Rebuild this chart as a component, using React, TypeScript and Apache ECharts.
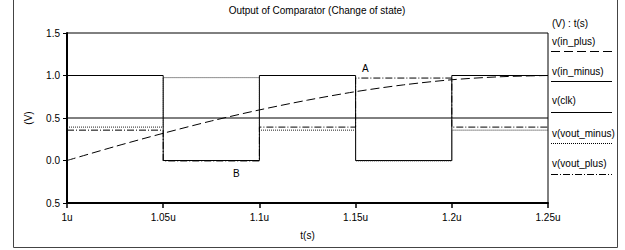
import React, { useEffect, useRef } from 'react';
import * as echarts from 'echarts';

// time in microseconds
const segmentBounds = [1, 1.05, 1.1, 1.15, 1.2, 1.25];
const inPlusT = [1, 1.025, 1.05, 1.075, 1.1, 1.125, 1.15, 1.175, 1.2, 1.225, 1.25];
const inPlusV = [0, 0.165, 0.32, 0.465, 0.595, 0.71, 0.81, 0.89, 0.95, 0.985, 1.0];
const inMinusT = [1, 1.25];
const inMinusV = [0.5, 0.5];
const clkLevels = [1, 0, 1, 0, 1];
const voutMinusLevels = [0.393, 0.975, 0.357, -0.005, 0.357];
const voutPlusLevels = [0.357, -0.005, 0.393, 0.97, 0.393];
const seriesNames = ['v(in_plus)', 'v(in_minus)', 'v(clk)', 'v(vout_minus)', 'v(vout_plus)'];
const annotations = [
  { name: 'A', t: 1.155, v: 1.087 },
  { name: 'B', t: 1.088, v: -0.148 },
];

const FONT = 'Liberation Sans, Arial, sans-serif';
const DASHED = [9, 4];
const DOTTED = [1, 1];
const DASHDOT = [7, 2, 1, 2];

function steps(levels: number[]): number[][] {
  const out: number[][] = [];
  levels.forEach((lv, i) => {
    out.push([segmentBounds[i], lv]);
    out.push([segmentBounds[i + 1], lv]);
  });
  return out;
}

function pairs(t: number[], v: number[]): number[][] {
  return t.map((x, i) => [x, v[i]]);
}

export default function App() {
  const ref = useRef<HTMLDivElement>(null);
  useEffect(() => {
    if (!ref.current) return;
    const chart = echarts.init(ref.current, undefined, { renderer: 'svg' });
    const lineBase = { type: 'line', showSymbol: false, symbol: 'none', z: 3 };
    const legendX1 = 551;
    const legendX2 = 612;
    const legendItems = [
      { name: seriesNames[0], ty: 41.5, ly: 51.5, dash: DASHED },
      { name: seriesNames[1], ty: 71, ly: 81.5, dash: null },
      { name: seriesNames[2], ty: 100, ly: 112.5, dash: null },
      { name: seriesNames[3], ty: 133, ly: 143.5, dash: DOTTED },
      { name: seriesNames[4], ty: 163, ly: 174.5, dash: DASHDOT },
    ];
    const graphics: any[] = [
      {
        type: 'rect',
        shape: { x: 13.5, y: -2, width: 604, height: 249.5 },
        style: { fill: 'none', stroke: '#444', lineWidth: 1 },
        silent: true,
      },
      {
        type: 'text',
        x: 317,
        y: 10,
        style: {
          text: 'Output of Comparator (Change of state)',
          font: `10px ${FONT}`,
          fill: '#000',
          align: 'center',
          verticalAlign: 'middle',
        },
      },
      {
        type: 'text',
        x: 307.5,
        y: 235,
        style: { text: 't(s)', font: `10px ${FONT}`, fill: '#000', align: 'center', verticalAlign: 'middle' },
      },
      {
        type: 'text',
        x: 28,
        y: 118,
        rotation: Math.PI / 2,
        style: { text: '(V)', font: `10px ${FONT}`, fill: '#000', align: 'center', verticalAlign: 'middle' },
      },
      {
        type: 'text',
        x: 552,
        y: 23,
        style: { text: '(V) : t(s)', font: `10px ${FONT}`, fill: '#000', align: 'left', verticalAlign: 'middle' },
      },
    ];
    legendItems.forEach((it) => {
      graphics.push({
        type: 'text',
        x: 552,
        y: it.ty,
        style: { text: it.name, font: `10px ${FONT}`, fill: '#000', align: 'left', verticalAlign: 'middle' },
      });
      graphics.push({
        type: 'line',
        shape: { x1: legendX1, y1: it.ly, x2: legendX2, y2: it.ly },
        style: { stroke: '#000', lineWidth: 1, lineDash: it.dash || undefined },
      });
    });

    chart.setOption({
      animation: false,
      textStyle: { fontFamily: FONT },
      grid: {
        left: 67,
        right: 77,
        top: 33,
        bottom: 47,
        show: true,
        borderColor: '#000',
        borderWidth: 1,
        backgroundColor: 'transparent',
      },
      xAxis: {
        type: 'value',
        min: 1,
        max: 1.25,
        interval: 0.05,
        axisLine: { show: true, onZero: false, lineStyle: { color: '#000', width: 2 } },
        axisTick: { show: true, inside: false, length: 5, lineStyle: { color: '#000', width: 1.5 } },
        splitLine: { show: false },
        axisLabel: {
          color: '#000',
          fontSize: 10,
          margin: 9,
          formatter: (v: number) => `${+v.toFixed(2)}u`,
        },
      },
      yAxis: {
        type: 'value',
        min: -0.5,
        max: 1.5,
        interval: 0.5,
        axisLine: { show: true, onZero: false, lineStyle: { color: '#000', width: 2 } },
        axisTick: { show: true, inside: false, length: 4, lineStyle: { color: '#000', width: 1 } },
        splitLine: { show: false },
        axisLabel: {
          color: '#000',
          fontSize: 10,
          margin: 7,
          formatter: (v: number) => Math.abs(v).toFixed(1),
        },
      },
      series: [
        {
          ...lineBase,
          name: seriesNames[2],
          data: steps(clkLevels),
          lineStyle: { color: '#000', width: 1, type: 'solid' },
        },
        {
          ...lineBase,
          name: seriesNames[1],
          data: pairs(inMinusT, inMinusV),
          lineStyle: { color: '#000', width: 1, type: 'solid' },
        },
        {
          ...lineBase,
          name: seriesNames[0],
          smooth: 0.3,
          data: pairs(inPlusT, inPlusV),
          lineStyle: { color: '#000', width: 1, type: DASHED },
        },
        {
          ...lineBase,
          name: seriesNames[3],
          data: steps(voutMinusLevels),
          lineStyle: { color: '#222', width: 1, type: DOTTED },
        },
        {
          ...lineBase,
          name: seriesNames[4],
          data: steps(voutPlusLevels),
          lineStyle: { color: '#000', width: 1, type: DASHDOT },
          markPoint: {
            symbol: 'circle',
            symbolSize: 1,
            itemStyle: { color: 'transparent' },
            label: {
              show: true,
              position: 'inside',
              formatter: '{b}',
              color: '#000',
              fontSize: 10,
              fontFamily: FONT,
            },
            data: annotations.map((a) => ({ name: a.name, coord: [a.t, a.v] })),
          },
        },
      ],
      graphic: graphics,
    });
    return () => chart.dispose();
  }, []);
  return (
    <div
      ref={ref}
      style={{ position: 'absolute', left: 0, top: 0, width: 625, height: 250, background: '#fff' }}
    />
  );
}
